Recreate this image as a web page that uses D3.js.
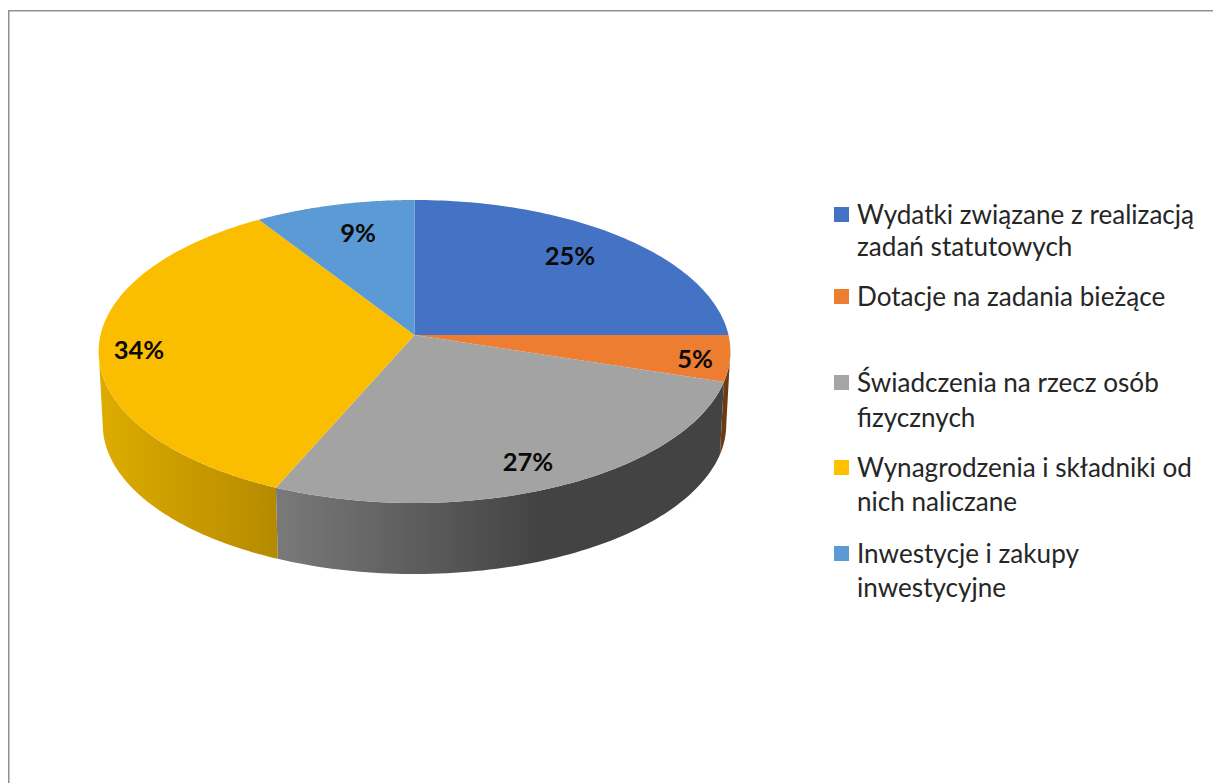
<!DOCTYPE html>
<html lang="pl"><head><meta charset="utf-8">
<script src="https://cdn.jsdelivr.net/npm/d3@7"></script>
<style>html,body{margin:0;padding:0;background:#fff;overflow:hidden}svg{display:block}text{font-family:Lato,"Open Sans",sans-serif}</style>
</head><body><svg id="c" width="1213" height="783"></svg>
<script>
const categories = ["Wydatki związane z realizacją zadań statutowych","Dotacje na zadania bieżące","Świadczenia na rzecz osób fizycznych","Wynagrodzenia i składniki od nich naliczane","Inwestycje i zakupy inwestycyjne"];
const values = [25.0, 4.9, 26.6, 34.4, 9.1];
const legendLines = [["Wydatki związane z realizacją","zadań statutowych"],["Dotacje na zadania bieżące"],["Świadczenia na rzecz osób","fizycznych"],["Wynagrodzenia i składniki od","nich naliczane"],["Inwestycje i zakupy","inwestycyjne"]];
const colors = ["#4472c4","#ed7d31","#a5a5a5","#ffc000","#5b9bd5"];
const topColors = ["#4472c4","#ed7d31","#a3a3a3","#fbbd00","#5b9ad5"];
const sideStops = [["#2f5597","#2f5597"],["#8a4a14","#6e3a10"],["#7a7a7a","#434343"],["#deac00","#b58a00"],["#3f75a8","#3f75a8"]];
const labelPos = [[570,256],[695,359],[528,462],[139,350],[358,233]];
const legendY = [[215,247],[297],[383,418],[468,502],[554,588]];

const svg = d3.select("#c");
const defs = svg.append("defs");
const cx=414.5, cy=335, a=314, b=149.7, k=0.1089, depth=73.2, shrink=0.987;
const project = (t,bottom)=>{
  const x=Math.sin(t), y=-Math.cos(t), w=1-k*y, s=bottom?shrink:1;
  return [cx+s*a*x/w, cy+(bottom?depth:0)+s*b*y/w];
};
const pie = d3.pie().sort(null).value(d=>d);
const arcs = pie(values);
const line = d3.line();
const sample = (t0,t1,bottom)=>d3.range(0,81).map(i=>project(t0+(t1-t0)*i/80,bottom));
const silA=Math.PI-Math.acos(k), silB=Math.PI+Math.acos(k);

// frame
svg.append("path").attr("d",line([[8.75,783],[8.75,10.75],[1213,10.75]])).attr("fill","none").attr("stroke","#8f8f8f").attr("stroke-width",1.5);

// side walls, drawn back to front
const gx0=[0,0,275,98,0], gx1=[0,0,540,277,0];
[1,3,2].forEach(i=>{
  const d=arcs[i];
  const t0=Math.max(d.startAngle,silA), t1=Math.min(d.endAngle,silB);
  if(t1<=t0) return;
  const id="side"+i;
  const g=defs.append("linearGradient").attr("id",id).attr("gradientUnits","userSpaceOnUse")
    .attr("x1",gx0[i]).attr("x2",gx1[i]).attr("y1",0).attr("y2",0);
  g.append("stop").attr("offset",0).attr("stop-color",sideStops[i][0]);
  g.append("stop").attr("offset",1).attr("stop-color",sideStops[i][1]);
  const pts=sample(t0,t1,false).concat(sample(t1,t0,true));
  svg.append("path").attr("d",line(pts)+"Z").attr("fill",i===1?sideStops[1][1]:`url(#${id})`);
});

// top faces
arcs.forEach((d,i)=>{
  const pts=[[cx,cy]].concat(sample(d.startAngle,d.endAngle,false));
  svg.append("path").attr("d",line(pts)+"Z").attr("fill",topColors[i]);
});

// percent labels
const pct=d3.format(".0f");
arcs.forEach((d,i)=>{
  svg.append("text").attr("x",labelPos[i][0]).attr("y",labelPos[i][1]).attr("dy","0.36em")
    .attr("text-anchor","middle").attr("font-size",25.5).attr("font-weight",700).attr("fill","#0a0a0a")
    .text(pct(d.value)+"%");
});

// legend
categories.forEach((c,i)=>{
  svg.append("rect").attr("x",834).attr("y",legendY[i][0]-8).attr("width",15).attr("height",15).attr("fill",colors[i]);
  legendLines[i].forEach((l,j)=>{
    svg.append("text").attr("x",857).attr("y",legendY[i][j]).attr("dy","0.36em")
      .attr("font-size",26.1).attr("fill","#262626").text(l);
  });
});
</script></body></html>
